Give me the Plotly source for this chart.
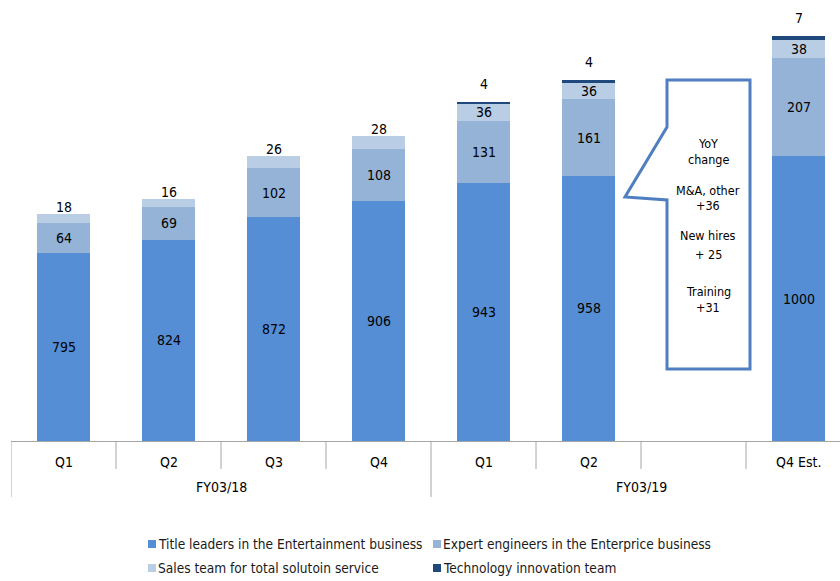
import plotly.graph_objects as go

# ---- data ----
quarters = ["Q1", "Q2", "Q3", "Q4", "Q1", "Q2", "", "Q4 Est."]
fiscal_years = ["FY03/18", "FY03/19"]
fy_spans = [(0, 3), (4, 7)]  # category index span of each fiscal year

series_names = [
    "Title leaders in the Entertainment business",
    "Expert engineers in the Enterprice business",
    "Sales team for total solutoin service",
    "Technology innovation team",
]
title_leaders = [795, 824, 872, 906, 943, 958, None, 1000]
expert_engineers = [64, 69, 102, 108, 131, 161, None, 207]
sales_team = [18, 16, 26, 28, 36, 36, None, 38]
tech_team = [None, None, None, None, 4, 4, None, 7]

callout_lines = ["YoY", "change", "", "M&A, other", "+36", "", "New hires", "+ 25", "", "Training", "+31"]

# ---- style ----
colors = ["#558ED5", "#95B3D7", "#B9CDE5", "#1F497D"]
FONT = "DejaVu Sans Condensed, Tahoma, DejaVu Sans, sans-serif"
W, H = 840, 581
ML, MR, MT, MB = 11, 0, 0, 140
PLOT_H = H - MT - MB
SLOT = 105.0
Y0 = 400
PX_PER_UNIT = 0.475
Y1 = Y0 + PLOT_H / PX_PER_UNIT
X0 = -0.5
X1 = X0 + (W - ML - MR) / SLOT

series = [title_leaders, expert_engineers, sales_team, tech_team]

fig = go.Figure()
x_idx = list(range(len(quarters)))
for name, vals, col in zip(series_names, series, colors):
    fig.add_trace(go.Bar(
        x=x_idx, y=vals, name=name, marker=dict(color=col, line=dict(width=0)),
        width=0.5, showlegend=False, hoverinfo="y+name",
    ))

annotations = []
txt_font = dict(family=FONT, size=14, color="#000000")

# value labels
for i in x_idx:
    if title_leaders[i] is None:
        continue
    totals = sum(v[i] for v in series if v[i] is not None)
    base = 0
    for s, vals in enumerate(series):
        v = vals[i]
        if v is None:
            continue
        top = base + v
        if v * PX_PER_UNIT < 14:
            # small segment: label above the stack
            shift = 18 if s == 3 else 7
            annotations.append(dict(x=i, y=totals, xref="x", yref="y", text=str(v),
                                    showarrow=False, yshift=shift, font=txt_font,
                                    xanchor="center", yanchor="middle"))
        else:
            mid = (max(base, Y0) + top) / 2
            annotations.append(dict(x=i, y=mid, xref="x", yref="y", text=str(v),
                                    showarrow=False, font=txt_font,
                                    xanchor="center", yanchor="middle"))
        base = top


def py2paper(py):
    return (MT + PLOT_H - py) / PLOT_H


def px2paper(px):
    return (px - ML) / (W - ML - MR)


shapes = []
grid_col = "#A6A6A6"
# category table lines
group_bounds = set()
for a, b in fy_spans:
    group_bounds.add(a - 0.5)
    group_bounds.add(b + 0.5)
for k in range(len(quarters) + 1):
    xb = k - 0.5
    bottom = 497 if xb in group_bounds else 469
    shapes.append(dict(type="line", xref="x", yref="paper", x0=xb, x1=xb,
                       y0=py2paper(441), y1=py2paper(bottom),
                       line=dict(color=grid_col, width=1)))
for i, q in enumerate(quarters):
    if q:
        annotations.append(dict(x=i, y=py2paper(462), xref="x", yref="paper", text=q,
                                showarrow=False, font=txt_font, xanchor="center", yanchor="middle"))
for fy, (a, b) in zip(fiscal_years, fy_spans):
    annotations.append(dict(x=(a + b) / 2, y=py2paper(487), xref="x", yref="paper", text=fy,
                            showarrow=False, font=txt_font, xanchor="center", yanchor="middle"))


# callout shape (data coords)
def py2y(py):
    return Y0 + (MT + PLOT_H - py) / PX_PER_UNIT


def px2x(px):
    return X0 + (px - ML) / SLOT


cx_l, cx_r, cx_tip = px2x(667), px2x(750), px2x(625)
cy_t, cy_b, cy_p1, cy_tip, cy_p2 = py2y(80), py2y(369), py2y(127), py2y(197), py2y(200)
path = (f"M {cx_l},{cy_t} L {cx_r},{cy_t} L {cx_r},{cy_b} L {cx_l},{cy_b} "
        f"L {cx_l},{cy_p2} L {cx_tip},{cy_tip} L {cx_l},{cy_p1} Z")
shapes.append(dict(type="path", xref="x", yref="y", path=path,
                   line=dict(color="#4F7FC0", width=3), fillcolor="white", layer="above"))

callout_y = [143, 159, None, 190, 205, None, 235, 254, None, 291, 307]
for line, py in zip(callout_lines, callout_y):
    if not line:
        continue
    annotations.append(dict(x=px2x(708), y=py2y(py), xref="x", yref="y", text=line,
                            showarrow=False, font=dict(family=FONT, size=12.5, color="#000000"),
                            xanchor="center", yanchor="middle"))

# manual legend
leg_pos = [(148, 544), (433, 544), (148, 568), (433, 568)]
for name, col, (lx, ly) in zip(series_names, colors, leg_pos):
    shapes.append(dict(type="rect", xref="paper", yref="paper",
                       x0=px2paper(lx), x1=px2paper(lx + 8),
                       y0=py2paper(ly - 4), y1=py2paper(ly + 4),
                       fillcolor=col, line=dict(width=0)))
    annotations.append(dict(x=px2paper(lx + 8), y=py2paper(ly), xref="paper", yref="paper",
                            text=name, showarrow=False,
                            font=dict(family=FONT, size=13.6, color="#1a1a1a"),
                            xanchor="left", yanchor="middle"))

fig.update_layout(
    width=W, height=H,
    margin=dict(l=ML, r=MR, t=MT, b=MB, pad=0),
    barmode="stack",
    bargap=0.5,
    plot_bgcolor="white", paper_bgcolor="white",
    xaxis=dict(range=[X0, X1], showticklabels=False, ticks="", showgrid=False,
               zeroline=False, showline=True, linecolor=grid_col, linewidth=1),
    yaxis=dict(range=[Y0, Y1], visible=False, showgrid=False, zeroline=False),
    shapes=shapes,
    annotations=annotations,
    showlegend=False,
    font=dict(family=FONT),
)

fig.write_html("out.html")
